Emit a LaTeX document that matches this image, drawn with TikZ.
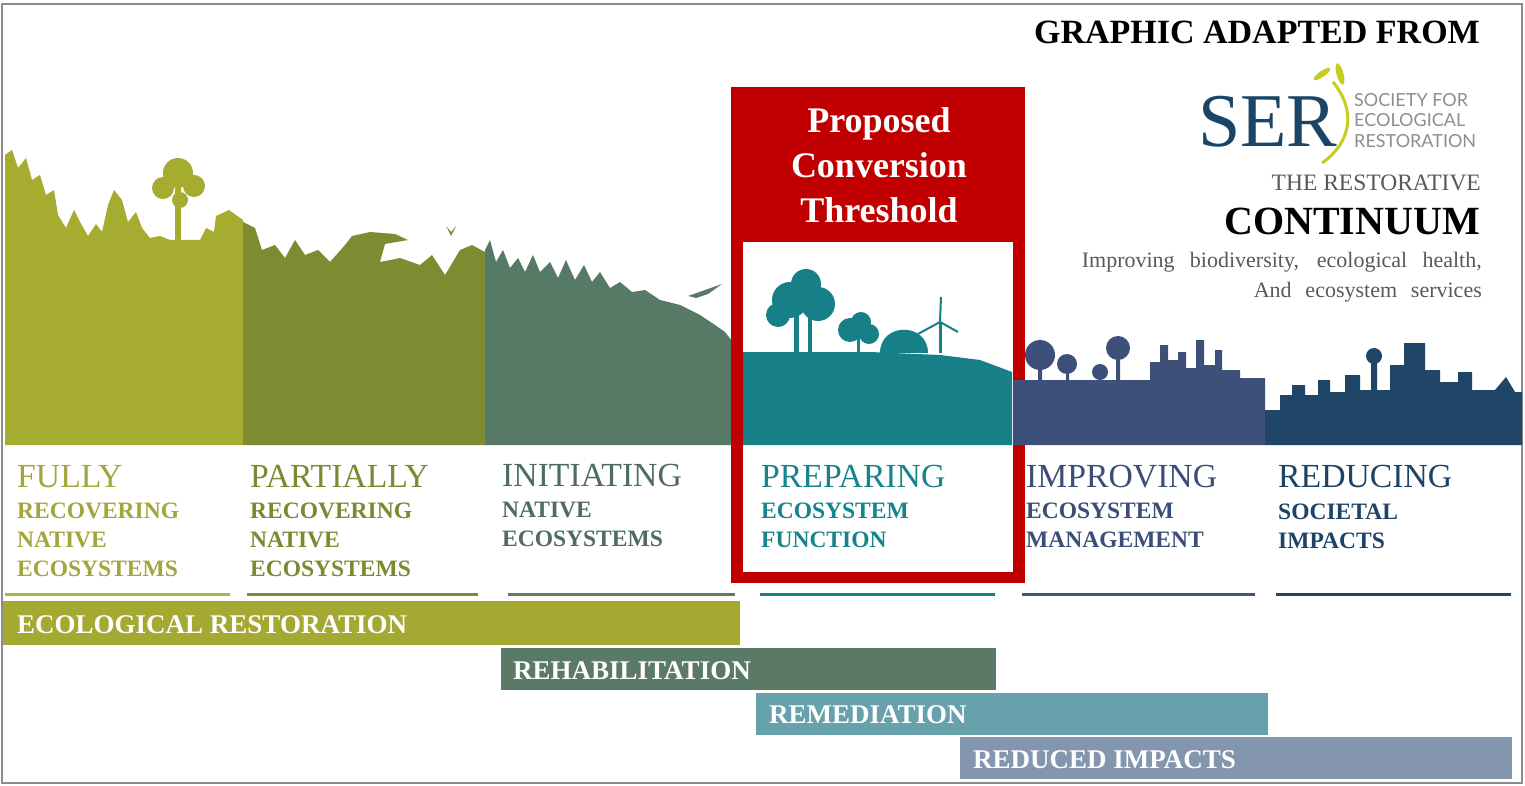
\documentclass[tikz,border=0pt]{standalone}
\usepackage{fontspec}
\setmainfont{Liberation Serif}
\newfontfamily\sersans{Lato}

\definecolor{stripA}{HTML}{A6AC2F}
\definecolor{stripB}{HTML}{7F8B30}
\definecolor{stripC}{HTML}{577A67}
\definecolor{stripD}{HTML}{167F87}
\definecolor{stripE}{HTML}{3C5079}
\definecolor{stripF}{HTML}{1F4567}
\definecolor{fullc}{HTML}{A2A63C}
\definecolor{partc}{HTML}{7D882F}
\definecolor{initc}{HTML}{4E6D5F}
\definecolor{prepc}{HTML}{16858B}
\definecolor{imprc}{HTML}{3A4E76}
\definecolor{reducc}{HTML}{1D4468}
\definecolor{restbar}{HTML}{A5A831}
\definecolor{rehabbar}{HTML}{5A7966}
\definecolor{remedbar}{HTML}{66A1AC}
\definecolor{reducedbar}{HTML}{8396AD}
\definecolor{threshred}{HTML}{C00000}
\definecolor{serblue}{HTML}{1B4566}
\definecolor{serleaf}{HTML}{C8CC1E}
\definecolor{sergray}{HTML}{8E8E8E}
\definecolor{textgray}{HTML}{595959}

\tikzset{
  heading/.style={anchor=base west, inner sep=0, font=\fontsize{33.7}{33.7}\selectfont},
  subhead/.style={anchor=base west, inner sep=0, font=\bfseries\fontsize{23.5}{23.5}\selectfont},
  barbox/.style={anchor=north west, inner sep=0, draw=none},
  barlabel/.style={anchor=base west, inner sep=0, text=white, font=\bfseries\fontsize{27}{27}\selectfont},
  rightline/.style={anchor=base east, inner sep=0},
  underbar/.style={line width=3}
}

\begin{document}
\begin{tikzpicture}[x=1pt,y=-1pt]
  \useasboundingbox (0,0) rectangle (1525,786);
  \fill[white] (0,0) rectangle (1525,786);
  \draw[gray!90, line width=2] (2,4) rectangle (1522,783);

  % landscape strips
  \fill[stripA] (5,445) -- (5,155) -- (12,150) -- (18,168) -- (26,158) -- (32,180)
    -- (40,175) -- (46,195) -- (54,190) -- (58,215) -- (66,228) -- (74,210)
    -- (80,222) -- (88,236) -- (96,224) -- (102,232) -- (108,205) -- (114,190)
    -- (122,200) -- (128,222) -- (136,212) -- (142,228) -- (150,238) -- (160,236)
    -- (170,240) -- (200,240) -- (206,228) -- (214,232) -- (216,216) -- (229,210)
    -- (243,220) -- (243,445) -- cycle;
  \fill[stripA] (175,180) rectangle (181,240);
  \fill[stripA] (178,173) circle (15) (163,188) circle (11) (194,186) circle (11)
    (180,200) circle (8);
  \fill[stripB] (243,445) -- (243,222) -- (255,228) -- (262,250) -- (275,245)
    -- (285,258) -- (295,240) -- (305,255) -- (318,250) -- (330,262) -- (345,245)
    -- (352,236) -- (370,232) -- (395,234) -- (408,240) -- (385,244) -- (380,262)
    -- (400,258) -- (420,265) -- (432,255) -- (445,275) -- (460,250) -- (472,245)
    -- (485,252) -- (485,445) -- cycle;
  \fill[stripB] (446,226) -- (451,232) -- (456,226) -- (451,236) -- cycle;
  \fill[stripC] (485,445) -- (485,250) -- (490,240) -- (496,262) -- (503,250)
    -- (510,268) -- (518,258) -- (525,272) -- (533,255) -- (540,272) -- (550,262)
    -- (558,278) -- (566,260) -- (575,280) -- (584,265) -- (592,282) -- (600,272)
    -- (610,288) -- (620,282) -- (632,292) -- (645,290) -- (660,300) -- (680,305)
    -- (700,315) -- (715,325) -- (725,332) -- (735,345) -- (735,445) -- cycle;
  \fill[stripC] (688,296) -- (705,290) -- (722,284) -- (708,294) -- (696,298) -- cycle;

  % threshold frame
  \fill[threshred] (731,87) rectangle (1025,583);
  \fill[white] (743,242) rectangle (1013,572);
  \foreach \t [count=\i] in {Proposed,Conversion,Threshold}
    \node[anchor=base, inner sep=0, text=white, font=\bfseries\fontsize{36}{36}\selectfont]
      (thresh\i) at (879,88+45*\i) {\t};

  \fill[stripD] (743,445) -- (743,352) -- (870,352) -- (940,355) -- (980,360)
    -- (1012,372) -- (1012,445) -- cycle;
  \fill[stripD] (794,300) rectangle (799,353);
  \fill[stripD] (808,305) rectangle (812,353);
  \fill[stripD] (790,300) circle (18) (806,284) circle (15) (818,304) circle (17)
    (778,315) circle (12);
  \fill[stripD] (857,330) rectangle (860,353);
  \fill[stripD] (850,330) circle (12) (861,322) circle (10) (869,334) circle (10);
  \fill[stripD] (880,353) .. controls (880,322) and (928,322) .. (928,353) -- cycle;
  \draw[stripD, line width=3] (940,353) -- (940,322);
  \draw[stripD, line width=2] (940,322) -- (941,297) (940,322) -- (918,334)
    (940,322) -- (958,332);

  \fill[stripE] (1013,445) -- (1013,380) -- (1150,380) -- (1150,362) -- (1160,362)
    -- (1160,345) -- (1168,345) -- (1168,360) -- (1178,360) -- (1178,352)
    -- (1186,352) -- (1186,368) -- (1196,368) -- (1196,340) -- (1204,340)
    -- (1204,365) -- (1215,365) -- (1215,350) -- (1222,350) -- (1222,370)
    -- (1240,370) -- (1240,378) -- (1265,378) -- (1265,445) -- cycle;
  \fill[stripE] (1038,355) rectangle (1042,381) (1066,362) rectangle (1069,381)
    (1116,350) rectangle (1120,381);
  \fill[stripE] (1040,355) circle (15) (1067,364) circle (10) (1118,348) circle (12)
    (1100,372) circle (8);

  \fill[stripF] (1265,445) -- (1265,410) -- (1280,410) -- (1280,395) -- (1292,395)
    -- (1292,385) -- (1305,385) -- (1305,395) -- (1318,395) -- (1318,380)
    -- (1330,380) -- (1330,392) -- (1345,392) -- (1345,375) -- (1360,375)
    -- (1360,390) -- (1371,390) -- (1371,362) -- (1377,362) -- (1377,390)
    -- (1390,390) -- (1390,365) -- (1404,365) -- (1404,343) -- (1425,343)
    -- (1425,370) -- (1440,370) -- (1440,382) -- (1458,382) -- (1458,372)
    -- (1472,372) -- (1472,390) -- (1495,390) -- (1506,377) -- (1515,392)
    -- (1522,392) -- (1522,445) -- cycle;
  \fill[stripF] (1374,356) circle (8);

  % column headings
  \node[heading, text=fullc] (fully) at (17,487) {FULLY};
  \node[heading, text=partc] (partially) at (250,487) {PARTIALLY};
  \node[heading, text=initc] (initiating) at (502,486) {INITIATING};
  \node[heading, text=prepc] (preparing) at (761,487) {PREPARING};
  \node[heading, text=imprc] (improving) at (1026,487) {IMPROVING};
  \node[heading, text=reducc] (reducing) at (1278,487) {REDUCING};

  \foreach \t [count=\i] in {RECOVERING,NATIVE,ECOSYSTEMS}
    \node[subhead, text=fullc] (fullsub\i) at (17,489+29*\i) {\t};
  \foreach \t [count=\i] in {RECOVERING,NATIVE,ECOSYSTEMS}
    \node[subhead, text=partc] (partsub\i) at (250,489+29*\i) {\t};
  \foreach \t [count=\i] in {NATIVE,ECOSYSTEMS}
    \node[subhead, text=initc] (initsub\i) at (502,488+29*\i) {\t};
  \foreach \t [count=\i] in {ECOSYSTEM,FUNCTION}
    \node[subhead, text=prepc] (prepsub\i) at (761,489+29*\i) {\t};
  \foreach \t [count=\i] in {ECOSYSTEM,MANAGEMENT}
    \node[subhead, text=imprc] (imprsub\i) at (1026,489+29*\i) {\t};
  \foreach \t [count=\i] in {SOCIETAL,IMPACTS}
    \node[subhead, text=reducc] (reducsub\i) at (1278,490+29*\i) {\t};

  % underlines
  \draw[underbar, stripA!90!white] (5,594) -- (230,594);
  \draw[underbar, stripB] (247,594) -- (478,594);
  \draw[underbar, stripC!80!gray] (508,594) -- (735,594);
  \draw[underbar, stripD] (760,594) -- (995,594);
  \draw[underbar, stripE!90!gray] (1022,594) -- (1255,594);
  \draw[underbar, stripF] (1276,594) -- (1511,594);

  % practice bars
  \node[barbox, fill=restbar, minimum width=737, minimum height=44] (restbox) at (3,601) {};
  \node[barlabel] (restlabel) at (17,633) {ECOLOGICAL RESTORATION};
  \node[barbox, fill=rehabbar, minimum width=495, minimum height=42] (rehabbox) at (501,648) {};
  \node[barlabel] (rehablabel) at (513,679) {REHABILITATION};
  \node[barbox, fill=remedbar, minimum width=512, minimum height=42] (remedbox) at (756,693) {};
  \node[barlabel] (remedlabel) at (769,723) {REMEDIATION};
  \node[barbox, fill=reducedbar, minimum width=552, minimum height=42] (reducedbox) at (960,737) {};
  \node[barlabel] (reducedlabel) at (973,768) {REDUCED IMPACTS};

  % source block
  \node[rightline, font=\bfseries\fontsize{34}{34}\selectfont] (adapted) at (1480,44) {GRAPHIC ADAPTED FROM};
  \node[anchor=base west, inner sep=0, text=serblue, font=\fontsize{76}{76}\selectfont] (ser) at (1198,147) {SER};
  \draw[serleaf, line width=3] (1333,82) .. controls (1356,110) and (1352,142) .. (1322,163);
  \fill[serleaf, rotate around={35:(1322,74)}] (1322,74) ellipse (10 and 3);
  \fill[serleaf, rotate around={-75:(1340,74)}] (1340,74) ellipse (11 and 3.5);
  \foreach \t [count=\i] in {SOCIETY FOR,ECOLOGICAL,RESTORATION}
    \node[anchor=base west, inner sep=0, text=sergray, font=\sersans\fontsize{18}{18}\selectfont]
      (sername\i) at (1354,86+20.5*\i) {\t};
  \node[rightline, text=textgray, font=\fontsize{23.5}{23.5}\selectfont] (restorative) at (1481,191) {THE RESTORATIVE};
  \node[rightline, font=\bfseries\fontsize{40}{40}\selectfont] (continuum) at (1480,235) {CONTINUUM};
  \node[rightline, text=textgray, font=\fontsize{22}{22}\selectfont] (tagline1) at (1482,268)
    {\makebox[400pt][s]{Improving biodiversity, ecological health,}};
  \node[rightline, text=textgray, font=\fontsize{22}{22}\selectfont] (tagline2) at (1482,297)
    {\makebox[228pt][s]{And ecosystem services}};
\end{tikzpicture}
\end{document}
